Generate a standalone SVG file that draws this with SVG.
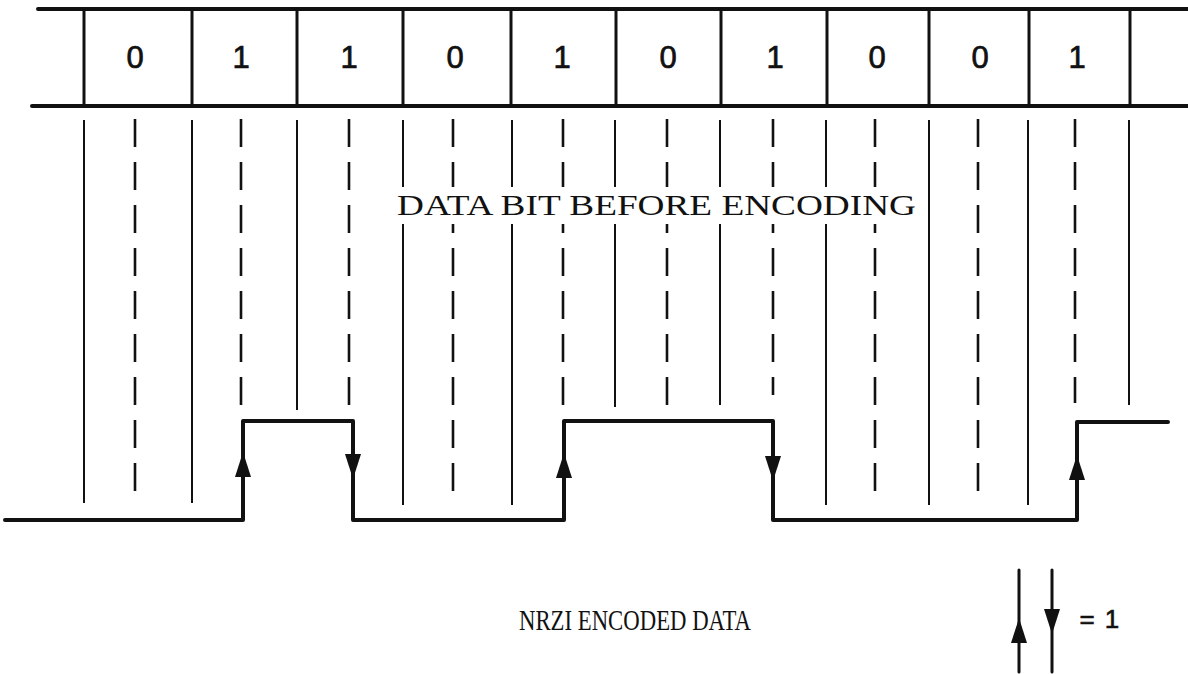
<svg xmlns="http://www.w3.org/2000/svg" xmlns:xlink="http://www.w3.org/1999/xlink" width="1188" height="674" viewBox="0 0 1188 674">
<style>
.frame{stroke:#111;stroke-width:4;fill:none;stroke-linecap:round}
.div{stroke:#111;stroke-width:3;fill:none}
.solid{stroke:#111;stroke-width:2;fill:none}
.dash{stroke:#111;stroke-width:2.6;fill:none;stroke-dasharray:28 15}
.sig{stroke:#111;stroke-width:4;fill:none;stroke-linejoin:round;stroke-linecap:round}
.digit{font-family:"Liberation Sans",Arial,sans-serif;font-size:31px;fill:#111;stroke:#111;stroke-width:0.7;text-anchor:middle}
.lbl{font-family:"Liberation Serif","Times New Roman",serif;font-size:29px;fill:#111}
.eq{font-family:"Liberation Sans",Arial,sans-serif;font-size:26px;fill:#111;stroke:#111;stroke-width:0.6;text-anchor:middle}
.head{fill:#111}
</style>
<defs>
<path id="ah-up" d="M0,0 L8,25 L-8,25 Z"/>
<path id="ah-down" d="M0,0 L-8,-25 L8,-25 Z"/>
</defs>
<rect width="1188" height="674" fill="#fff"/>

<g id="bit-cells">
<line class="frame" x1="38" y1="9" x2="1188" y2="9"/>
<line class="frame" x1="32" y1="106" x2="1188" y2="106"/>
<g>
<line class="div" x1="84" y1="9" x2="84" y2="106"/>
<line class="div" x1="192" y1="9" x2="192" y2="106"/>
<line class="div" x1="297" y1="9" x2="297" y2="106"/>
<line class="div" x1="403" y1="9" x2="403" y2="106"/>
<line class="div" x1="511" y1="9" x2="511" y2="106"/>
<line class="div" x1="616" y1="9" x2="616" y2="106"/>
<line class="div" x1="721" y1="9" x2="721" y2="106"/>
<line class="div" x1="827" y1="9" x2="827" y2="106"/>
<line class="div" x1="929" y1="9" x2="929" y2="106"/>
<line class="div" x1="1029" y1="9" x2="1029" y2="106"/>
<line class="div" x1="1130" y1="9" x2="1130" y2="106"/>
</g>
<g>
<text class="digit" x="135" y="68">0</text>
<text class="digit" x="241" y="68">1</text>
<text class="digit" x="349" y="68">1</text>
<text class="digit" x="455" y="68">0</text>
<text class="digit" x="562" y="68">1</text>
<text class="digit" x="668" y="68">0</text>
<text class="digit" x="775" y="68">1</text>
<text class="digit" x="877" y="68">0</text>
<text class="digit" x="980" y="68">0</text>
<text class="digit" x="1077" y="68">1</text>
</g>
</g>

<g id="grid-lines">
<line class="solid" x1="84" y1="120" x2="84" y2="503"/>
<line class="dash" x1="135" y1="119" x2="135" y2="505"/>
<line class="solid" x1="192" y1="120" x2="192" y2="503"/>
<line class="dash" x1="241" y1="119" x2="241" y2="412"/>
<line class="solid" x1="297" y1="120" x2="297" y2="410"/>
<line class="dash" x1="349" y1="119" x2="349" y2="408"/>
<line class="solid" x1="403" y1="120" x2="403" y2="505"/>
<line class="dash" x1="453" y1="119" x2="453" y2="503"/>
<line class="solid" x1="512" y1="120" x2="512" y2="505"/>
<line class="dash" x1="563" y1="119" x2="563" y2="412"/>
<line class="solid" x1="615" y1="120" x2="615" y2="407"/>
<line class="dash" x1="667" y1="119" x2="667" y2="405"/>
<line class="solid" x1="720" y1="120" x2="720" y2="405"/>
<line class="dash" x1="773" y1="119" x2="773" y2="395"/>
<line class="solid" x1="826" y1="120" x2="826" y2="505"/>
<line class="dash" x1="875" y1="119" x2="875" y2="505"/>
<line class="solid" x1="929" y1="120" x2="929" y2="505"/>
<line class="dash" x1="978" y1="119" x2="978" y2="502"/>
<line class="solid" x1="1028" y1="120" x2="1028" y2="505"/>
<line class="dash" x1="1075" y1="119" x2="1075" y2="403"/>
<line class="solid" x1="1129" y1="120" x2="1129" y2="405"/>
</g>

<g id="data-label">
<rect x="392" y="187" width="530" height="37" fill="#fff"/>
<line class="solid" x1="929" y1="180" x2="929" y2="230"/>
<text class="lbl" x="397" y="215" textLength="519" lengthAdjust="spacingAndGlyphs">DATA BIT BEFORE ENCODING</text>
</g>

<g id="nrzi-signal">
<polyline class="sig" points="5,520 243,520 243,421 353,421 353,520 564,520 564,421 773,421 773,520 1077,520 1077,422 1168,422"/>
<use xlink:href="#ah-up" class="head" x="243" y="452"/>
<use xlink:href="#ah-down" class="head" x="353" y="479"/>
<use xlink:href="#ah-up" class="head" x="564" y="453"/>
<use xlink:href="#ah-down" class="head" x="773" y="481"/>
<use xlink:href="#ah-up" class="head" x="1077" y="455"/>
</g>

<g id="legend">
<text class="lbl" x="519" y="630" font-size="24" textLength="232" lengthAdjust="spacingAndGlyphs">NRZI ENCODED DATA</text>
<line class="sig" x1="1019" y1="570" x2="1019" y2="672" style="stroke-width:3"/>
<use xlink:href="#ah-up" class="head" x="1019" y="618"/>
<line class="sig" x1="1052" y1="570" x2="1052" y2="672" style="stroke-width:3"/>
<use xlink:href="#ah-down" class="head" x="1052" y="634"/>
<text class="eq" x="1087" y="628">=</text>
<text class="eq" x="1112" y="628">1</text>
</g>
</svg>
